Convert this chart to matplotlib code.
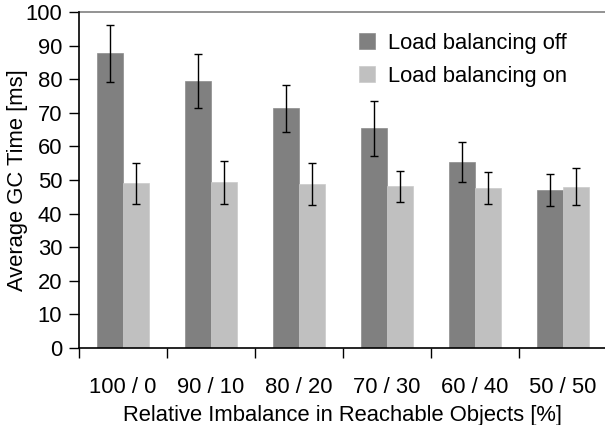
import numpy as np
import matplotlib.pyplot as plt

plt.rcParams['font.family'] = ['Liberation Sans', 'DejaVu Sans']

categories = ['100 / 0', '90 / 10', '80 / 20', '70 / 30', '60 / 40', '50 / 50']
lb_off = [87.7, 79.4, 71.3, 65.4, 55.3, 47.1]
lb_off_err = [8.4, 8.0, 7.1, 8.2, 6.0, 4.8]
lb_on = [49.1, 49.3, 48.8, 48.1, 47.7, 48.0]
lb_on_err = [6.1, 6.5, 6.2, 4.7, 4.7, 5.5]

fs = 15.8

fig = plt.figure(figsize=(6.05, 4.25), dpi=100)
ax = fig.add_axes([79 / 605, 77 / 425, 528 / 605, 336 / 425])

x = np.arange(len(categories))
w = 0.295
err_kw = dict(ecolor='black', elinewidth=1.0, capsize=2.6, capthick=1.0)
ax.bar(x - w / 2, lb_off, w, yerr=lb_off_err, color='#808080',
       edgecolor='#8c8c8c', linewidth=0.5, label='Load balancing off', error_kw=err_kw)
ax.bar(x + w / 2, lb_on, w, yerr=lb_on_err, color='#c0c0c0',
       edgecolor='#cacaca', linewidth=0.5, label='Load balancing on', error_kw=err_kw)

ax.set_xlim(-0.5, len(categories) - 0.5)
ax.set_ylim(0, 100)
ax.set_yticks(np.arange(0, 101, 10))
ax.set_xticks(x)
ax.set_xticklabels(categories)
ax.set_xticks(np.arange(-0.5, len(categories), 1), minor=True)
ax.tick_params(axis='x', which='major', length=0, pad=21, labelsize=fs)
ax.tick_params(axis='x', which='minor', length=7, width=1, color='black')
ax.tick_params(axis='y', length=7, width=1, labelsize=fs, pad=5)
ax.axhline(100, color='#808080', linewidth=1.2, clip_on=False)

for s in ['top', 'right']:
    ax.spines[s].set_visible(False)
for s in ['left', 'bottom']:
    ax.spines[s].set_linewidth(1.2)

ax.set_xlabel('Relative Imbalance in Reachable Objects [%]', fontsize=fs, labelpad=5)
ax.set_ylabel('Average GC Time [ms]', fontsize=fs)
ax.yaxis.set_label_coords(-0.097, 0.5)

ax.legend(loc='upper left', bbox_to_anchor=(271 / 528, 0.965), frameon=False,
          fontsize=fs, handlelength=0.72, handleheight=0.72, handletextpad=0.6,
          labelspacing=0.55, borderaxespad=0)

fig.savefig('out.png', dpi=100)
